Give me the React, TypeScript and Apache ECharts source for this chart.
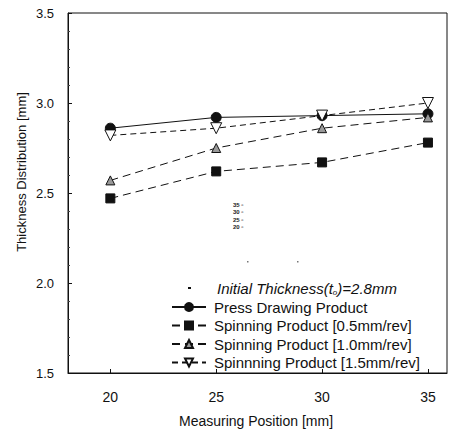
import React, { useEffect, useRef } from "react";
import * as echarts from "echarts";

const positions = [20, 25, 30, 35];
const pressDrawing = [2.86, 2.92, 2.93, 2.94];
const spin05 = [2.47, 2.62, 2.67, 2.78];
const spin10 = [2.57, 2.75, 2.86, 2.92];
const spin15 = [2.82, 2.86, 2.93, 3.0];
const seriesNames = [
  "Press Drawing Product",
  "Spinning Product [0.5mm/rev]",
  "Spinning Product [1.0mm/rev]",
  "Spinnning Product [1.5mm/rev]",
];
const xTicks = [20, 25, 30, 35];
const noteText = "{i|Initial Thickness(t}{s|o}{i|)=2.8mm}";
const axisXName = "Measuring Position [mm]";
const axisYName = "Thickness Distribution [mm]";
const smallLabels = "35 ▫\n30 ▫\n25 ▫\n20 ▫";

const pairs = (ys: number[]) => positions.map((x, i) => [x, ys[i]]);

export default function App() {
  const ref = useRef<HTMLDivElement>(null);
  useEffect(() => {
    if (!ref.current) return;
    const chart = echarts.init(ref.current, undefined, { renderer: "svg" });
    const font = "Liberation Sans";
    const black = "#111";
    const lineSeries = (
      name: string,
      ys: number[],
      symbol: string,
      size: number,
      fill: string,
      dashed: any
    ) => ({
      name,
      type: "line",
      data: pairs(ys),
      symbol,
      symbolSize: size,
      lineStyle: { color: black, width: 1, type: dashed },
      itemStyle: { color: fill, borderColor: black, borderWidth: 1 },
    });
    chart.setOption({
      animation: false,
      backgroundColor: "#fff",
      textStyle: { fontFamily: font },
      grid: { left: 68, right: 3, top: 13, bottom: 60, show: true, borderColor: black, borderWidth: 1, backgroundColor: "transparent" },
      xAxis: {
        type: "value",
        min: 18,
        max: 35.9,
        axisLine: { lineStyle: { color: black } },
        axisTick: { inside: true, length: 4, customValues: xTicks, lineStyle: { color: black } },
        axisLabel: { customValues: xTicks, fontSize: 14, color: black, margin: 17, fontFamily: font },
        splitLine: { show: false },
      },
      yAxis: {
        type: "value",
        min: 1.5,
        max: 3.5,
        interval: 0.5,
        axisLine: { lineStyle: { color: black } },
        axisTick: { inside: true, length: 4, lineStyle: { color: black } },
        minorTick: { show: true, splitNumber: 5, length: 2, lineStyle: { color: "#444" } },
        axisLabel: { fontSize: 13, color: black, margin: 14, formatter: (v: number) => v.toFixed(1), fontFamily: font },
        splitLine: { show: false },
      },
      legend: {
        orient: "vertical",
        left: 166,
        top: 293,
        itemGap: 0.5,
        itemWidth: 34,
        itemHeight: 10,
        data: seriesNames,
        textStyle: { fontSize: 15, lineHeight: 18, color: black, fontFamily: font, padding: [0, 0, 0, 3] },
      },
      graphic: [
        { type: "rect", shape: { x: 188, y: 287, width: 3, height: 2 }, style: { fill: black } },
        {
          type: "text",
          x: 217,
          y: 288,
          style: {
            text: noteText,
            verticalAlign: "middle",
            rich: {
              i: { fontSize: 15, fontStyle: "italic", fill: black, fontFamily: font },
              s: { fontSize: 8, fontStyle: "italic", fill: black, fontFamily: font, padding: [8, 0, 0, 0] },
            },
          },
        },
        {
          type: "text",
          x: 21,
          y: 172,
          rotation: Math.PI / 2,
          style: { text: axisYName, fontSize: 13, fill: black, fontFamily: font, align: "center", verticalAlign: "middle" },
        },
        {
          type: "text",
          x: 256,
          y: 421,
          style: { text: axisXName, fontSize: 14, fill: black, fontFamily: font, align: "center", verticalAlign: "middle" },
        },
        { type: "text", x: 233, y: 201, style: { text: smallLabels, fontSize: 6, lineHeight: 7.5, fontWeight: "bold", fill: "#222", fontFamily: font } },
        { type: "rect", shape: { x: 247, y: 261, width: 1.5, height: 1.5 }, style: { fill: "#777" } },
        { type: "rect", shape: { x: 297, y: 261, width: 1.5, height: 1.5 }, style: { fill: "#777" } },
      ],
      series: [
        lineSeries(seriesNames[0], pressDrawing, "circle", 10, black, "solid"),
        lineSeries(seriesNames[1], spin05, "rect", 9, black, [8, 5]),
        lineSeries(seriesNames[2], spin10, "triangle", 9, "#999", [8, 5]),
        lineSeries(seriesNames[3], spin15, "path://M0,0 L10,0 L5,9 Z", 11, "#fff", [6, 4]),
      ],
    });
    return () => chart.dispose();
  }, []);
  return <div ref={ref} style={{ position: "fixed", left: 0, top: 0, width: 450, height: 433 }} />;
}
